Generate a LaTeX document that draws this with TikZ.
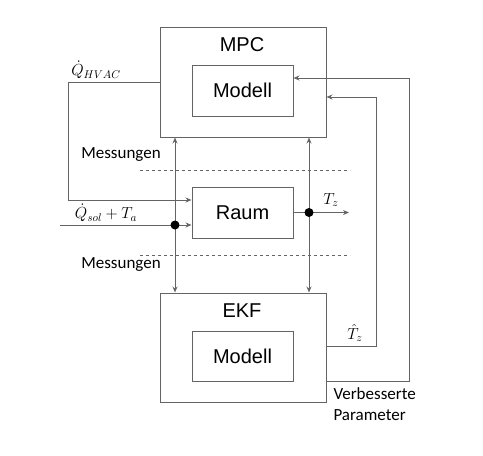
\documentclass[tikz,border=0pt]{standalone}
\usepackage{fix-cm}
\usepackage{amsmath}
\usepackage{fontspec}
\setmainfont{Liberation Sans}
\newfontfamily\calfont{Carlito}
\usetikzlibrary{arrows.meta}
\definecolor{linegray}{RGB}{100,100,100}

\begin{document}
\begin{tikzpicture}[x=1pt,y=-1pt,>={Stealth[length=6pt,width=5pt]},
  box/.style={draw=linegray,line width=1pt,rectangle,inner sep=0pt},
  conn/.style={draw=linegray,line width=0.9pt},
  dotnode/.style={circle,fill=black,inner sep=0pt,minimum size=9pt}]
\useasboundingbox (0,0) rectangle (483,456);

\node[box,minimum width=166,minimum height=110] (mpc) at (243,82) {};
\node[box,minimum width=101,minimum height=51] (mpcmod) at (242.5,90.5) {\fontsize{20}{22}\selectfont Modell};
\node[box,minimum width=101,minimum height=51] (raum) at (242.5,212.5) {\fontsize{20}{22}\selectfont Raum};
\node[box,minimum width=166,minimum height=109] (ekf) at (243,347.5) {};
\node[box,minimum width=101,minimum height=50] (ekfmod) at (242.5,356) {\fontsize{20}{22}\selectfont Modell};

\node (mpclabel) at (242,45) {\fontsize{20}{22}\selectfont MPC};
\node (ekflabel) at (242,311) {\fontsize{20}{22}\selectfont EKF};

% Q_HVAC loop into the room
\coordinate (hvacleft) at (68,82);
\coordinate (hvacdown) at (68,200);
\draw[conn,->] (mpc.west |- hvacleft) -- (hvacleft) -- (hvacdown) -- (raum.west |- hvacdown);
\node[inner sep=1pt] (hvac) at (96,70) {\fontsize{16}{18}\selectfont\(\dot{Q}_{HVAC}\)};

% disturbances
\coordinate (solin) at (60,225);
\coordinate (leftjoin) at (175,225);
\draw[conn,->] (solin) -- (raum.west |- solin);
\node[inner sep=1pt] (sol) at (106,213) {\fontsize{16}{18}\selectfont\(\dot{Q}_{sol}+T_a\)};

% measurements
\coordinate (rightjoin) at (309,212.5);
\coordinate (tzout) at (349,212.5);
\draw[conn,<->] (leftjoin |- mpc.south) -- (leftjoin |- ekf.north);
\draw[conn,->] (raum.east) -- (tzout);
\draw[conn,<->] (rightjoin |- mpc.south) -- (rightjoin |- ekf.north);
\node[dotnode] (dotleft) at (leftjoin) {};
\node[dotnode] (dotright) at (rightjoin) {};
\node[inner sep=1pt] (tz) at (331,200) {\fontsize{16}{18}\selectfont\(T_z\)};

\draw[linegray,dashed,line width=0.7pt] (140,170) -- (350,170);
\draw[linegray,dashed,line width=0.7pt] (140,255) -- (350,255);
\node (meas1) at (121,155) {\calfont\fontsize{17}{19}\selectfont Messungen};
\node (meas2) at (121,265) {\calfont\fontsize{17}{19}\selectfont Messungen};

% estimate back to MPC
\coordinate (thatright) at (376,346);
\coordinate (thattop) at (376,97);
\draw[conn,->] (ekf.east |- thatright) -- (thatright) -- (thattop) -- (mpc.east |- thattop);
\node[inner sep=1pt] (that) at (355,333) {\fontsize{16}{18}\selectfont\(\hat{T}_z\)};

% improved parameters
\coordinate (parright) at (409,381);
\coordinate (partop) at (409,78);
\draw[conn,->] (ekf.east |- parright) -- (parright) -- (partop) -- (mpcmod.east |- partop);
\node[anchor=west] (verb) at (330,394) {\calfont\fontsize{17}{19}\selectfont Verbesserte};
\node[anchor=west] (param) at (330,415) {\calfont\fontsize{17}{19}\selectfont Parameter};
\end{tikzpicture}
\end{document}
